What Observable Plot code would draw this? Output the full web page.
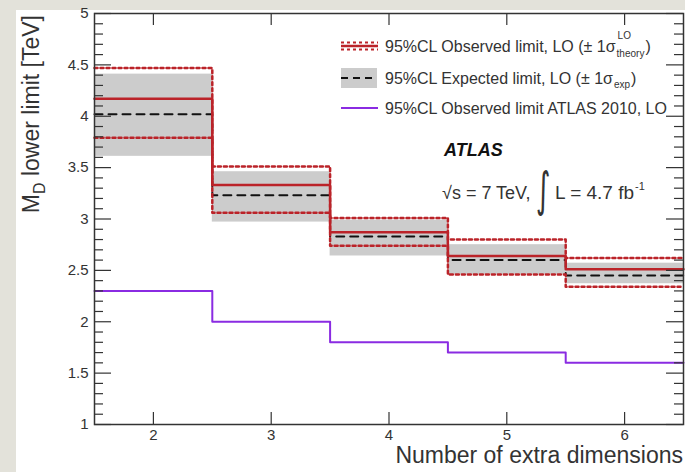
<!DOCTYPE html>
<html><head><meta charset="utf-8">
<script src="https://cdn.jsdelivr.net/npm/d3@7"></script>
<script src="https://cdn.jsdelivr.net/npm/@observablehq/plot@0.6"></script>
<style>
body{margin:0;background:#e3e2da;}
#wrap{position:relative;width:685px;height:472px;overflow:hidden;background:#e3e2da;}
#canvas{position:absolute;left:16px;top:10px;width:669px;height:462px;background:#fff;}
#chart{position:absolute;left:0;top:0;}
</style></head><body>
<div id="wrap"><div id="canvas"></div><div id="chart"></div></div>
<script>
// Data
const dims      = [2, 3, 4, 5, 6];
const observed  = [4.17, 3.33, 2.87, 2.64, 2.51];
const obsUp     = [4.47, 3.51, 3.01, 2.80, 2.62];
const obsDown   = [3.79, 3.06, 2.74, 2.46, 2.34];
const expected  = [4.02, 3.23, 2.83, 2.60, 2.45];
const expUp     = [4.41, 3.46, 2.99, 2.75, 2.57];
const expDown   = [3.61, 2.97, 2.64, 2.46, 2.37];
const atlas2010 = [2.30, 2.00, 1.80, 1.70, 1.60];
const xTicks    = [2, 3, 4, 5, 6];
const yMajor    = [1, 1.5, 2, 2.5, 3, 3.5, 4, 4.5, 5];
const yMinor    = d3.range(11, 50).map(i => i / 10).filter(v => !yMajor.some(m => Math.abs(m - v) < 1e-9));

const W = 685, H = 472, mL = 94, mR = 2, mT = 13, mB = 48;
const plotW = W - mL - mR, plotH = H - mT - mB;

const bins = dims.map((n, i) => ({n, lo: expDown[i], hi: expUp[i]}));
function steps(vals) {
  const pts = dims.map((n, i) => ({x: n - 0.5, y: vals[i]}));
  pts.push({x: dims[dims.length - 1] + 0.5, y: vals[vals.length - 1]});
  return pts;
}
const RED = "#bb2329", PURPLE = "#8a2be2", INK = "#333";

const chart = Plot.plot({
  width: W, height: H,
  marginLeft: mL, marginRight: mR, marginTop: mT, marginBottom: mB,
  style: {background: "transparent", fontFamily: "'Liberation Sans', Arial, sans-serif", fontSize: "15px", color: INK, overflow: "visible"},
  x: {domain: [1.5, 6.5]},
  y: {domain: [1, 5]},
  marks: [
    Plot.rect(bins, {x1: d => d.n - 0.5, x2: d => d.n + 0.5, y1: "lo", y2: "hi", fill: "#cccccc"}),
    Plot.line(steps(expected), {x: "x", y: "y", curve: "step-after", stroke: "#111", strokeWidth: 2, strokeDasharray: "8,6"}),
    Plot.line(steps(obsUp), {x: "x", y: "y", curve: "step-after", stroke: RED, strokeWidth: 2.5, strokeDasharray: "3,3"}),
    Plot.line(steps(obsDown), {x: "x", y: "y", curve: "step-after", stroke: RED, strokeWidth: 2.5, strokeDasharray: "3,3"}),
    Plot.line(steps(observed), {x: "x", y: "y", curve: "step-after", stroke: RED, strokeWidth: 2.5}),
    Plot.line(steps(atlas2010), {x: "x", y: "y", curve: "step-after", stroke: PURPLE, strokeWidth: 2}),
    // inward ticks
    Plot.tickY(yMajor, {y: d => d, insetRight: plotW - 17, stroke: INK, strokeWidth: 1.2}),
    Plot.tickY(yMajor, {y: d => d, insetLeft: plotW - 17, stroke: INK, strokeWidth: 1.2}),
    Plot.tickY(yMinor, {y: d => d, insetRight: plotW - 9, stroke: INK, strokeWidth: 1.2}),
    Plot.tickY(yMinor, {y: d => d, insetLeft: plotW - 9, stroke: INK, strokeWidth: 1.2}),
    Plot.tickX(xTicks, {x: d => d, insetTop: plotH - 12, stroke: INK, strokeWidth: 1.2}),
    Plot.tickX(xTicks, {x: d => d, insetBottom: plotH - 12, stroke: INK, strokeWidth: 1.2}),
    Plot.frame({stroke: INK, strokeWidth: 1.5}),
    Plot.axisY({ticks: yMajor, tickSize: 0, tickPadding: 6, label: null, fill: INK, tickFormat: d => String(d)}),
    Plot.axisX({ticks: xTicks, tickSize: 0, tickPadding: 5, label: null, fill: INK, tickFormat: d => String(d)})
  ]
});
document.getElementById("chart").appendChild(chart);

const svg = d3.select(chart);
const FONT = "'Liberation Sans', Arial, sans-serif";
const g = svg.append("g").attr("font-family", FONT).attr("fill", INK).attr("text-anchor", "start");

// Axis titles
const yt = g.append("text").attr("transform", "translate(39,15) rotate(-90)")
  .attr("text-anchor", "end").attr("font-size", 23);
yt.append("tspan").text("M");
yt.append("tspan").attr("font-size", 16).attr("dy", 6).text("D");
yt.append("tspan").attr("dy", -6).text(" lower limit [TeV]");
g.append("text").attr("x", 683).attr("y", 463).attr("text-anchor", "end")
  .attr("font-size", 23).text("Number of extra dimensions");

// Legend
const lx = 341, lw = 37, tx = 385;
const L = g.append("g");
L.append("line").attr("x1", lx).attr("x2", lx + lw).attr("y1", 42.5).attr("y2", 42.5).attr("stroke", RED).attr("stroke-width", 2).attr("stroke-dasharray", "3,3");
L.append("line").attr("x1", lx).attr("x2", lx + lw).attr("y1", 46).attr("y2", 46).attr("stroke", RED).attr("stroke-width", 2.5);
L.append("line").attr("x1", lx).attr("x2", lx + lw).attr("y1", 49.5).attr("y2", 49.5).attr("stroke", RED).attr("stroke-width", 2).attr("stroke-dasharray", "3,3");
L.append("rect").attr("x", lx).attr("y", 68).attr("width", lw - 1).attr("height", 20).attr("fill", "#cccccc");
L.append("line").attr("x1", lx).attr("x2", lx + lw - 1).attr("y1", 78).attr("y2", 78).attr("stroke", "#111").attr("stroke-width", 2).attr("stroke-dasharray", "7,5");
L.append("line").attr("x1", lx).attr("x2", lx + lw).attr("y1", 108).attr("y2", 108).attr("stroke", PURPLE).attr("stroke-width", 2);

const t1 = L.append("text").attr("x", tx).attr("y", 51.5).attr("font-size", 16).text("95%CL Observed limit, LO (\u00b1 1\u03c3");
const w1 = t1.node().getComputedTextLength();
L.append("text").attr("x", tx + w1 + 2).attr("y", 39).attr("font-size", 10).text("LO");
const th = L.append("text").attr("x", tx + w1 + 1).attr("y", 57).attr("font-size", 10).text("theory");
const wth = th.node().getComputedTextLength();
L.append("text").attr("x", tx + w1 + wth + 2).attr("y", 51.5).attr("font-size", 16).text(")");

const t2 = L.append("text").attr("x", tx).attr("y", 83.5).attr("font-size", 16).text("95%CL Expected limit, LO (\u00b1 1\u03c3");
const w2 = t2.node().getComputedTextLength();
const ex = L.append("text").attr("x", tx + w2 + 1).attr("y", 88).attr("font-size", 10).text("exp");
const wex = ex.node().getComputedTextLength();
L.append("text").attr("x", tx + w2 + wex + 2).attr("y", 83.5).attr("font-size", 16).text(")");

L.append("text").attr("x", tx).attr("y", 113.5).attr("font-size", 16).text("95%CL Observed limit ATLAS 2010, LO");

// ATLAS label
g.append("text").attr("x", 444).attr("y", 156).attr("font-size", 18).attr("font-weight", "bold").attr("font-style", "italic").attr("fill", "#111").text("ATLAS");
g.append("text").attr("x", 442).attr("y", 199).attr("font-size", 18).text("\u221as = 7 TeV,");
g.append("text").attr("transform", "translate(536,206) scale(1,1.7)").attr("font-size", 28).attr("font-family", "'DejaVu Sans', sans-serif").text("\u222b");
const lt = g.append("text").attr("x", 555).attr("y", 199).attr("font-size", 19).text("L = 4.7 fb");
const wl = lt.node().getComputedTextLength();
g.append("text").attr("x", 555 + wl + 1).attr("y", 190).attr("font-size", 11).text("-1");
</script>
</body></html>
